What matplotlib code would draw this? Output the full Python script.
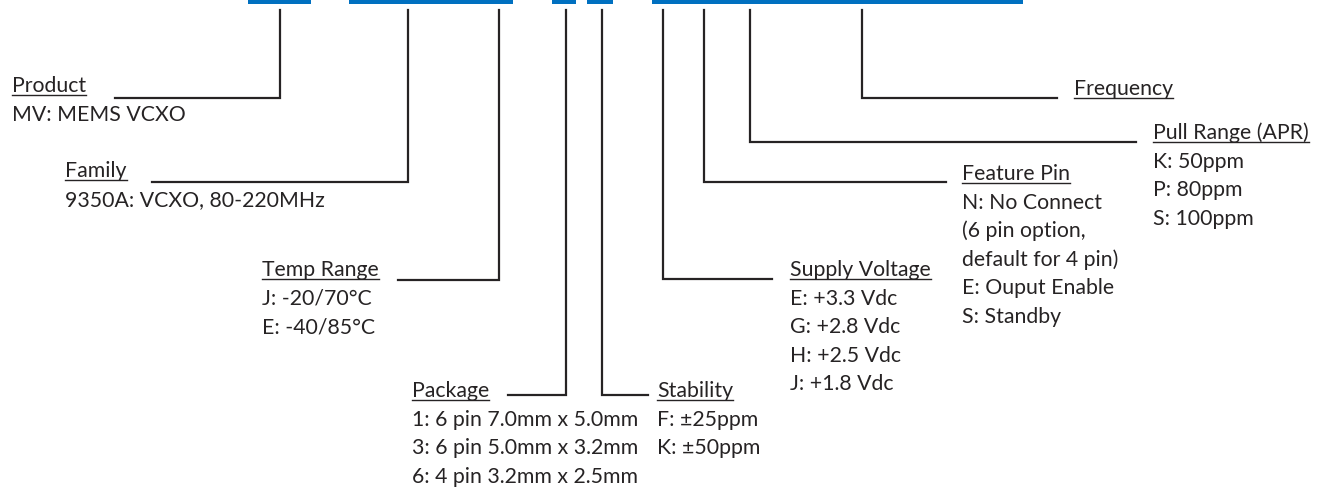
import matplotlib
matplotlib.use("Agg")
import matplotlib.pyplot as plt

plt.rcParams["font.family"] = ["Lato", "DejaVu Sans"]

# Campos del número de parte
headings = ["Product", "Family", "Temp Range", "Package", "Stability",
            "Supply Voltage", "Feature Pin", "Pull Range (APR)", "Frequency"]
options = [
    ["MV: MEMS VCXO"],
    ["9350A: VCXO, 80-220MHz"],
    ["J: -20/70°C", "E: -40/85°C"],
    ["1: 6 pin 7.0mm x 5.0mm", "3: 6 pin 5.0mm x 3.2mm", "6: 4 pin 3.2mm x 2.5mm"],
    ["F: ±25ppm", "K: ±50ppm"],
    ["E: +3.3 Vdc", "G: +2.8 Vdc", "H: +2.5 Vdc", "J: +1.8 Vdc"],
    ["N: No Connect", "(6 pin option,", "default for 4 pin)", "E: Ouput Enable", "S: Standby"],
    ["K: 50ppm", "P: 80ppm", "S: 100ppm"],
    [],
]

# Layout en pixeles: (x de la guía, y del codo, x final del tramo horizontal, x del texto, y base del título)
layout = [
    (280, 98, 115, 12, 92),
    (408, 182, 152, 65, 177),
    (499, 280, 398, 262, 276),
    (566, 395, 508, 412, 397),
    (602, 395, 648, 657, 397),
    (663, 279, 772, 790, 276),
    (704, 182, 946, 962, 180),
    (750, 142, 1136, 1153, 139),
    (862, 98, 1057, 1074, 95),
]
bar_spans = [(248, 63), (349, 164), (552, 24), (587, 26), (652, 371)]

W, H = 1327, 487
dark = "#262324"
blue = "#0070C0"
fs = 15.3
step = 28.6

fig = plt.figure(figsize=(W / 100, H / 100), dpi=100)
ax = fig.add_axes([0, 0, 1, 1])
ax.set_xlim(0, W)
ax.set_ylim(H, 0)
ax.axis("off")

# Barras azules superiores
ax.broken_barh(bar_spans, (0, 3.5), facecolors=blue)

renderer = fig.canvas.get_renderer()
inv = ax.transData.inverted()

for name, opts, (lx, ey, hx, tx, ty) in zip(headings, options, layout):
    ax.plot([lx, lx, hx], [10, ey, ey], color=dark, lw=1.6, solid_joinstyle="miter")
    t = ax.text(tx, ty, name, fontsize=fs, color=dark, va="baseline", ha="left")
    bb = t.get_window_extent(renderer)
    (x0, _), (x1, _) = inv.transform([(bb.x0, 0), (bb.x1, 0)])
    ax.plot([x0, x1], [ty + 2.8, ty + 2.8], color=dark, lw=1.0)
    for i, o in enumerate(opts):
        ax.text(tx, ty + step * (i + 1), o, fontsize=fs, color=dark,
                va="baseline", ha="left")

fig.savefig("out.png", dpi=100)
